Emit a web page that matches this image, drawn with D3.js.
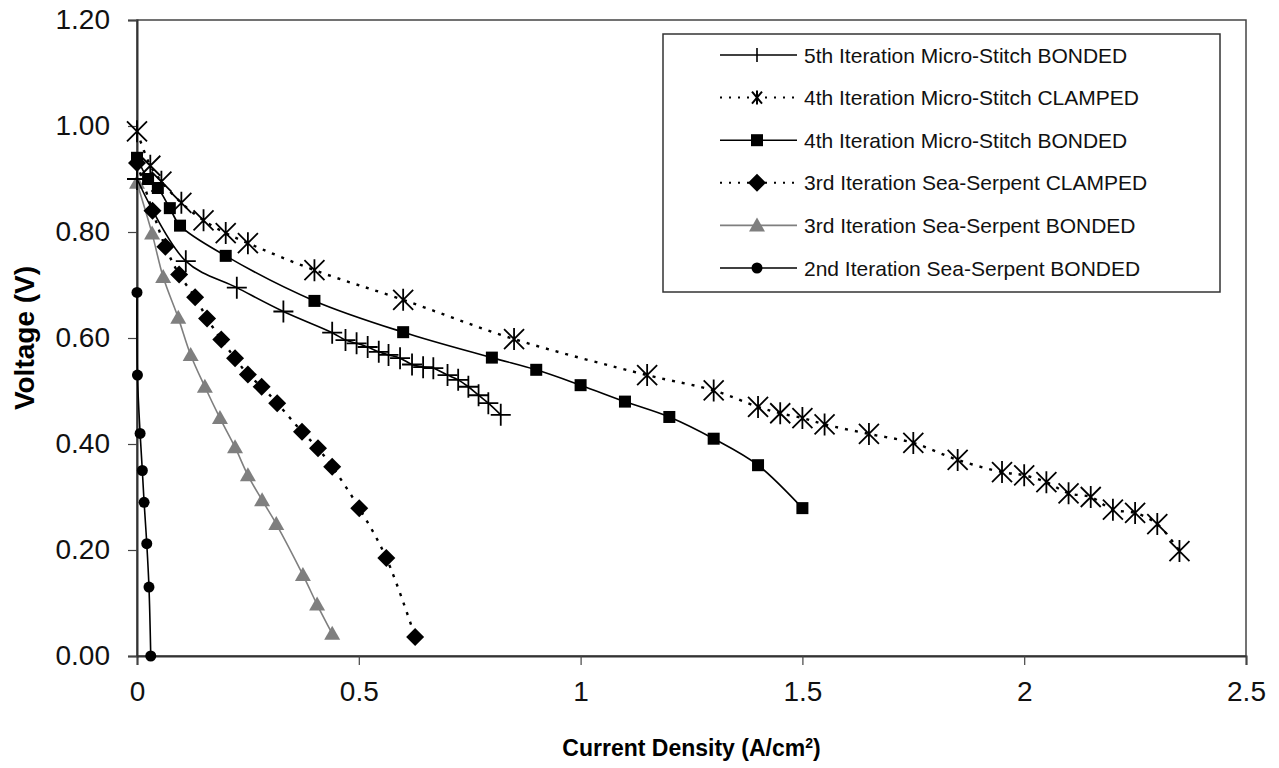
<!DOCTYPE html>
<html>
<head>
<meta charset="utf-8">
<script src="https://cdn.jsdelivr.net/npm/d3@7"></script>
<style>
  body { margin: 0; background: #fff; }
  text { font-family: Arial, "Liberation Sans", sans-serif; }
  .tick text { font-size: 28px; }
</style>
</head>
<body>
<div id="chart"></div>
<script>
// values
const s5Bonded = [[0, 0.90], [0.11, 0.745], [0.225, 0.695], [0.33, 0.65], [0.44, 0.61], [0.47, 0.596], [0.495, 0.59],
  [0.52, 0.583], [0.545, 0.574], [0.567, 0.568], [0.593, 0.562], [0.62, 0.55], [0.645, 0.545], [0.668, 0.543],
  [0.70, 0.53], [0.724, 0.521], [0.747, 0.508], [0.77, 0.492], [0.792, 0.477], [0.82, 0.455]];
const s4Clamped = [[0, 0.99], [0.03, 0.925], [0.055, 0.895], [0.1, 0.855], [0.15, 0.822], [0.2, 0.798], [0.25, 0.779],
  [0.4, 0.728], [0.6, 0.672], [0.85, 0.598], [1.15, 0.53], [1.3, 0.501], [1.4, 0.47], [1.45, 0.458], [1.5, 0.449],
  [1.55, 0.437], [1.65, 0.419], [1.75, 0.402], [1.85, 0.37], [1.95, 0.347], [2.0, 0.341], [2.05, 0.328],
  [2.1, 0.307], [2.15, 0.30], [2.2, 0.276], [2.25, 0.27], [2.3, 0.249], [2.35, 0.198]];
const s4Bonded = [[0, 0.94], [0.025, 0.90], [0.047, 0.883], [0.074, 0.845], [0.097, 0.812], [0.2, 0.755],
  [0.4, 0.67], [0.6, 0.611], [0.8, 0.563], [0.9, 0.54], [1.0, 0.511], [1.1, 0.48], [1.2, 0.451], [1.3, 0.41],
  [1.4, 0.36], [1.5, 0.279]];
const s3Clamped = [[0, 0.93], [0.035, 0.84], [0.064, 0.772], [0.095, 0.72], [0.131, 0.677], [0.158, 0.637],
  [0.19, 0.597], [0.221, 0.562], [0.25, 0.531], [0.281, 0.508], [0.316, 0.477], [0.372, 0.423], [0.408, 0.392],
  [0.44, 0.357], [0.501, 0.279], [0.562, 0.185], [0.627, 0.036]];
const s3Bonded = [[0, 0.893], [0.034, 0.797], [0.059, 0.715], [0.093, 0.638], [0.121, 0.568], [0.153, 0.508],
  [0.187, 0.449], [0.221, 0.394], [0.25, 0.341], [0.282, 0.294], [0.314, 0.249], [0.374, 0.153], [0.406, 0.097],
  [0.44, 0.042]];
const s2Bonded = [[0, 0.686], [0.001, 0.53], [0.007, 0.42], [0.012, 0.35], [0.016, 0.29], [0.022, 0.212],
  [0.027, 0.13], [0.031, 0.0]];

const seriesNames = ["5th Iteration Micro-Stitch BONDED", "4th Iteration Micro-Stitch CLAMPED",
  "4th Iteration Micro-Stitch BONDED", "3rd Iteration Sea-Serpent CLAMPED",
  "3rd Iteration Sea-Serpent BONDED", "2nd Iteration Sea-Serpent BONDED"];
const xTicks = [0, 0.5, 1, 1.5, 2, 2.5];
const yTicks = [0, 0.2, 0.4, 0.6, 0.8, 1.0, 1.2];

const width = 1279, height = 768;
const margin = {left: 137, right: 33, top: 20, bottom: 112};

const svg = d3.select("#chart").append("svg").attr("width", width).attr("height", height);

const x = d3.scaleLinear().domain([0, 2.5]).range([margin.left, width - margin.right]);
const y = d3.scaleLinear().domain([0, 1.2]).range([height - margin.bottom, margin.top]);

// plot frame
svg.append("rect")
  .attr("x", x(0)).attr("y", y(1.2))
  .attr("width", x(2.5) - x(0)).attr("height", y(0) - y(1.2))
  .attr("fill", "none").attr("stroke", "#444").attr("stroke-width", 1.5);

const xAxis = svg.append("g")
  .attr("transform", `translate(0,${y(0)})`)
  .call(d3.axisBottom(x).tickValues(xTicks).tickSize(9).tickPadding(16).tickFormat(d3.format("")));
const yAxis = svg.append("g")
  .attr("transform", `translate(${x(0)},0)`)
  .call(d3.axisLeft(y).tickValues(yTicks).tickSize(9).tickPadding(18).tickFormat(d3.format(".2f")));

[xAxis, yAxis].forEach(a => {
  a.attr("font-size", 28).attr("font-family", null);
  a.select(".domain").attr("stroke", "#333").attr("stroke-width", 2);
  a.selectAll(".tick line").attr("stroke", "#444").attr("stroke-width", 1.2);
  a.selectAll(".tick text").attr("fill", "#111");
});

svg.append("text")
  .attr("x", (x(0) + x(2.5)) / 2).attr("y", 756)
  .attr("text-anchor", "middle").style("font-size", "23px").attr("font-weight", "bold")
  .text("Current Density (A/cm")
  .append("tspan").attr("baseline-shift", "super").style("font-size", "14px").text("2")
  .select(function () { return this.parentNode; })
  .append("tspan").text(")");

svg.append("text")
  .attr("transform", `translate(34,${(y(0) + y(1.2)) / 2}) rotate(-90)`)
  .attr("text-anchor", "middle").style("font-size", "28px").attr("font-weight", "bold")
  .text("Voltage (V)");

// marker shapes
function drawMarker(g, kind, cx, cy) {
  if (kind === "plus") {
    g.append("path").attr("d", `M${cx - 10},${cy}H${cx + 10}M${cx},${cy - 11}V${cy + 11}`)
      .attr("stroke", "#000").attr("stroke-width", 1.8).attr("fill", "none");
  } else if (kind === "star") {
    g.append("path").attr("d", `M${cx - 10},${cy - 10}L${cx + 10},${cy + 10}M${cx - 10},${cy + 10}L${cx + 10},${cy - 10}M${cx},${cy - 11}V${cy + 11}`)
      .attr("stroke", "#000").attr("stroke-width", 1.8).attr("fill", "none");
  } else if (kind === "square") {
    g.append("rect").attr("x", cx - 6).attr("y", cy - 6).attr("width", 12).attr("height", 12).attr("fill", "#000");
  } else if (kind === "diamond") {
    g.append("path").attr("d", `M${cx},${cy - 9}L${cx + 9},${cy}L${cx},${cy + 9}L${cx - 9},${cy}Z`).attr("fill", "#000");
  } else if (kind === "triangle") {
    g.append("path").attr("d", `M${cx},${cy - 8}L${cx + 8},${cy + 6}L${cx - 8},${cy + 6}Z`).attr("fill", "#7f7f7f");
  } else if (kind === "circle") {
    g.append("circle").attr("cx", cx).attr("cy", cy).attr("r", 5.5).attr("fill", "#000");
  }
}

const series = [
  {name: seriesNames[0], data: s5Bonded, marker: "plus", color: "#000", dash: null, w: 1.6},
  {name: seriesNames[1], data: s4Clamped, marker: "star", color: "#000", dash: "3,7", w: 2.4},
  {name: seriesNames[2], data: s4Bonded, marker: "square", color: "#000", dash: null, w: 1.6},
  {name: seriesNames[3], data: s3Clamped, marker: "diamond", color: "#000", dash: "3,7", w: 2.4},
  {name: seriesNames[4], data: s3Bonded, marker: "triangle", color: "#7f7f7f", dash: null, w: 1.6},
  {name: seriesNames[5], data: s2Bonded, marker: "circle", color: "#000", dash: null, w: 1.6}
];

const line = d3.line().x(d => x(d[0])).y(d => y(d[1])).curve(d3.curveCatmullRom);

// draw in reverse so the top legend entry sits on top
series.slice().reverse().forEach(s => {
  const g = svg.append("g");
  g.append("path").datum(s.data).attr("d", line)
    .attr("fill", "none").attr("stroke", s.color).attr("stroke-width", s.w)
    .attr("stroke-dasharray", s.dash);
  s.data.forEach(d => drawMarker(g, s.marker, x(d[0]), y(d[1])));
});

// legend
const legend = svg.append("g");
legend.append("rect").attr("x", 663).attr("y", 34).attr("width", 557).attr("height", 258)
  .attr("fill", "#fff").attr("stroke", "#333").attr("stroke-width", 1.5);

series.forEach((s, i) => {
  const ly = 55 + i * 42.6;
  legend.append("line").attr("x1", 720).attr("x2", 797).attr("y1", ly).attr("y2", ly)
    .attr("stroke", s.color).attr("stroke-width", s.dash ? 2 : 1.6).attr("stroke-dasharray", s.dash ? "2,7" : null);
  const mg = legend.append("g");
  if (s.marker === "star") {
    mg.append("path").attr("d", `M752,${ly - 6}L762,${ly + 6}M752,${ly + 6}L762,${ly - 6}M757,${ly - 7}V${ly + 7}`)
      .attr("stroke", "#000").attr("stroke-width", 2).attr("fill", "none");
  } else if (s.marker === "plus") {
    mg.append("path").attr("d", `M757,${ly - 7}V${ly + 7}`).attr("stroke", "#000").attr("stroke-width", 1.6);
  } else {
    drawMarker(mg, s.marker, 757, ly);
  }
  legend.append("text").attr("x", 804).attr("y", ly + 7.5).style("font-size", "21px").attr("fill", "#111").text(s.name);
});
</script>
</body>
</html>
